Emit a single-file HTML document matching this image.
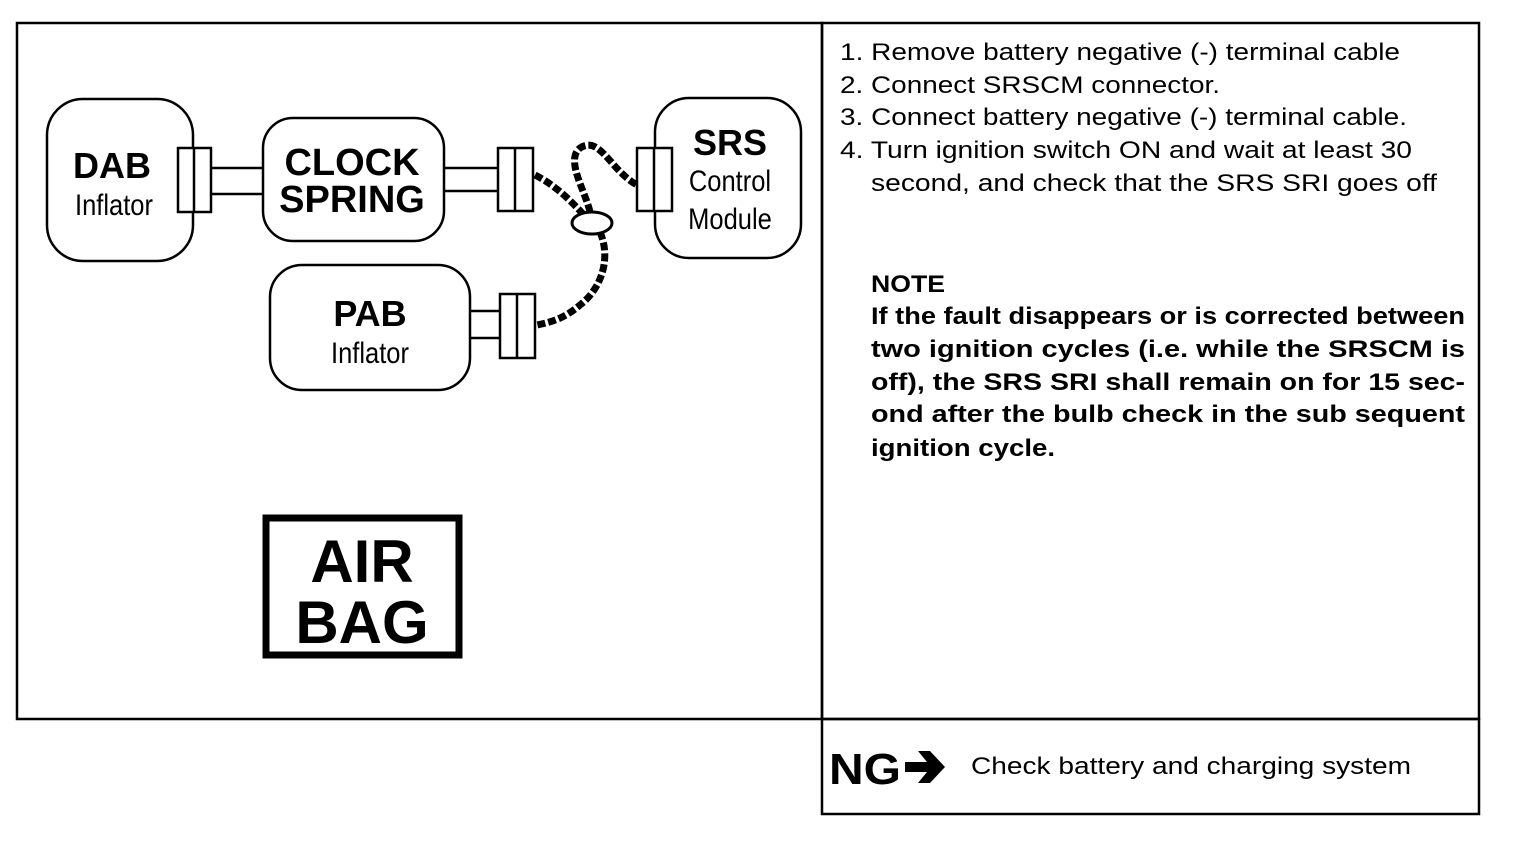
<!DOCTYPE html>
<html><head><style>
body{margin:0;background:#fff;width:1520px;height:862px;overflow:hidden}
svg{position:absolute;left:0;top:0}
text{font-family:"Liberation Sans",sans-serif;fill:#000}
.n{font-size:24px}
.b{font-size:24px;font-weight:bold}
</style></head><body>
<svg width="1520" height="862" viewBox="0 0 1520 862">
<g fill="none" stroke="#000" stroke-width="2.5">
<rect x="17" y="23" width="805" height="696"/>
<rect x="822" y="23" width="657" height="696"/>
<rect x="822" y="719" width="657" height="95"/>
<rect x="47" y="99" width="146" height="162" rx="36"/>
<rect x="263" y="118" width="181" height="123" rx="30"/>
<rect x="655" y="98" width="146" height="160" rx="34"/>
<rect x="270" y="265" width="200" height="125" rx="32"/>
<rect x="178" y="148" width="33" height="64" fill="#fff"/><line x1="194" y1="148" x2="194" y2="212"/>
<line x1="211" y1="168" x2="264" y2="168"/><line x1="211" y1="194" x2="264" y2="194"/>
<line x1="444" y1="168" x2="498" y2="168"/><line x1="444" y1="191" x2="498" y2="191"/>
<rect x="498" y="148" width="35" height="63" fill="#fff"/><line x1="515" y1="148" x2="515" y2="211"/>
<rect x="637" y="148" width="35" height="63" fill="#fff"/><line x1="654" y1="148" x2="654" y2="211"/>
<line x1="470" y1="311" x2="500" y2="311"/><line x1="470" y1="338" x2="500" y2="338"/>
<rect x="500" y="294" width="35" height="64" fill="#fff"/><line x1="517" y1="294" x2="517" y2="358"/>
</g>
<g fill="none" stroke="#000" stroke-width="7" stroke-dasharray="8 3">
<path d="M535 175 C555 185 570 200 583 214"/>
<path d="M590 212 C585 190 565 160 580 148 C600 135 610 170 637 185"/>
<path d="M600 232 C612 260 600 290 580 305 C565 318 552 322 537 325"/>
</g>
<ellipse cx="592" cy="223" rx="20" ry="11" fill="#fff" stroke="#000" stroke-width="3"/>
<rect x="266" y="518" width="193" height="137" fill="none" stroke="#000" stroke-width="7"/>
<text x="112" y="178" font-size="36" font-weight="bold" text-anchor="middle">DAB</text>
<text x="114" y="215" font-size="30" text-anchor="middle" transform="translate(114 0) scale(0.85 1) translate(-114 0)">Inflator</text>
<text x="352" y="175" font-size="38" font-weight="bold" text-anchor="middle">CLOCK</text>
<text x="352" y="212" font-size="38" font-weight="bold" text-anchor="middle">SPRING</text>
<text x="730" y="155" font-size="36" font-weight="bold" text-anchor="middle">SRS</text>
<text x="730" y="191" font-size="30" text-anchor="middle" transform="translate(730 0) scale(0.85 1) translate(-730 0)">Control</text>
<text x="730" y="229" font-size="30" text-anchor="middle" transform="translate(730 0) scale(0.85 1) translate(-730 0)">Module</text>
<text x="370" y="326" font-size="36" font-weight="bold" text-anchor="middle">PAB</text>
<text x="370" y="363" font-size="30" text-anchor="middle" transform="translate(370 0) scale(0.85 1) translate(-370 0)">Inflator</text>
<text x="362" y="582" font-size="60" font-weight="bold" text-anchor="middle">AIR</text>
<text x="362" y="643" font-size="60" font-weight="bold" text-anchor="middle">BAG</text>
<text class="n" x="840" y="60" textLength="560" lengthAdjust="spacingAndGlyphs">1. Remove battery negative (-) terminal cable</text>
<text class="n" x="840" y="93" textLength="380" lengthAdjust="spacingAndGlyphs">2. Connect SRSCM connector.</text>
<text class="n" x="840" y="125" textLength="567" lengthAdjust="spacingAndGlyphs">3. Connect battery negative (-) terminal cable.</text>
<text class="n" x="840" y="158" textLength="572" lengthAdjust="spacingAndGlyphs">4. Turn ignition switch ON and wait at least 30</text>
<text class="n" x="871" y="191" textLength="566" lengthAdjust="spacingAndGlyphs">second, and check that the SRS SRI goes off</text>
<text class="b" x="871" y="292" textLength="74" lengthAdjust="spacingAndGlyphs">NOTE</text>
<text class="b" x="871" y="324" textLength="594" lengthAdjust="spacingAndGlyphs">If the fault disappears or is corrected between</text>
<text class="b" x="871" y="357" textLength="594" lengthAdjust="spacingAndGlyphs">two ignition cycles (i.e. while the SRSCM is</text>
<text class="b" x="871" y="390" textLength="594" lengthAdjust="spacingAndGlyphs">off), the SRS SRI shall remain on for 15 sec-</text>
<text class="b" x="871" y="422" textLength="594" lengthAdjust="spacingAndGlyphs">ond after the bulb check in the sub sequent</text>
<text class="b" x="871" y="456" textLength="184" lengthAdjust="spacingAndGlyphs">ignition cycle.</text>
<text x="829" y="784" font-size="44" font-weight="bold" textLength="72" lengthAdjust="spacingAndGlyphs">NG</text>
<path d="M905 762 h22 l-9 -11 h12 l15 16 l-15 16 h-12 l9 -11 h-22 z" fill="#000"/>
<text class="n" x="971" y="774" textLength="440" lengthAdjust="spacingAndGlyphs">Check battery and charging system</text>
</svg>
</body></html>
